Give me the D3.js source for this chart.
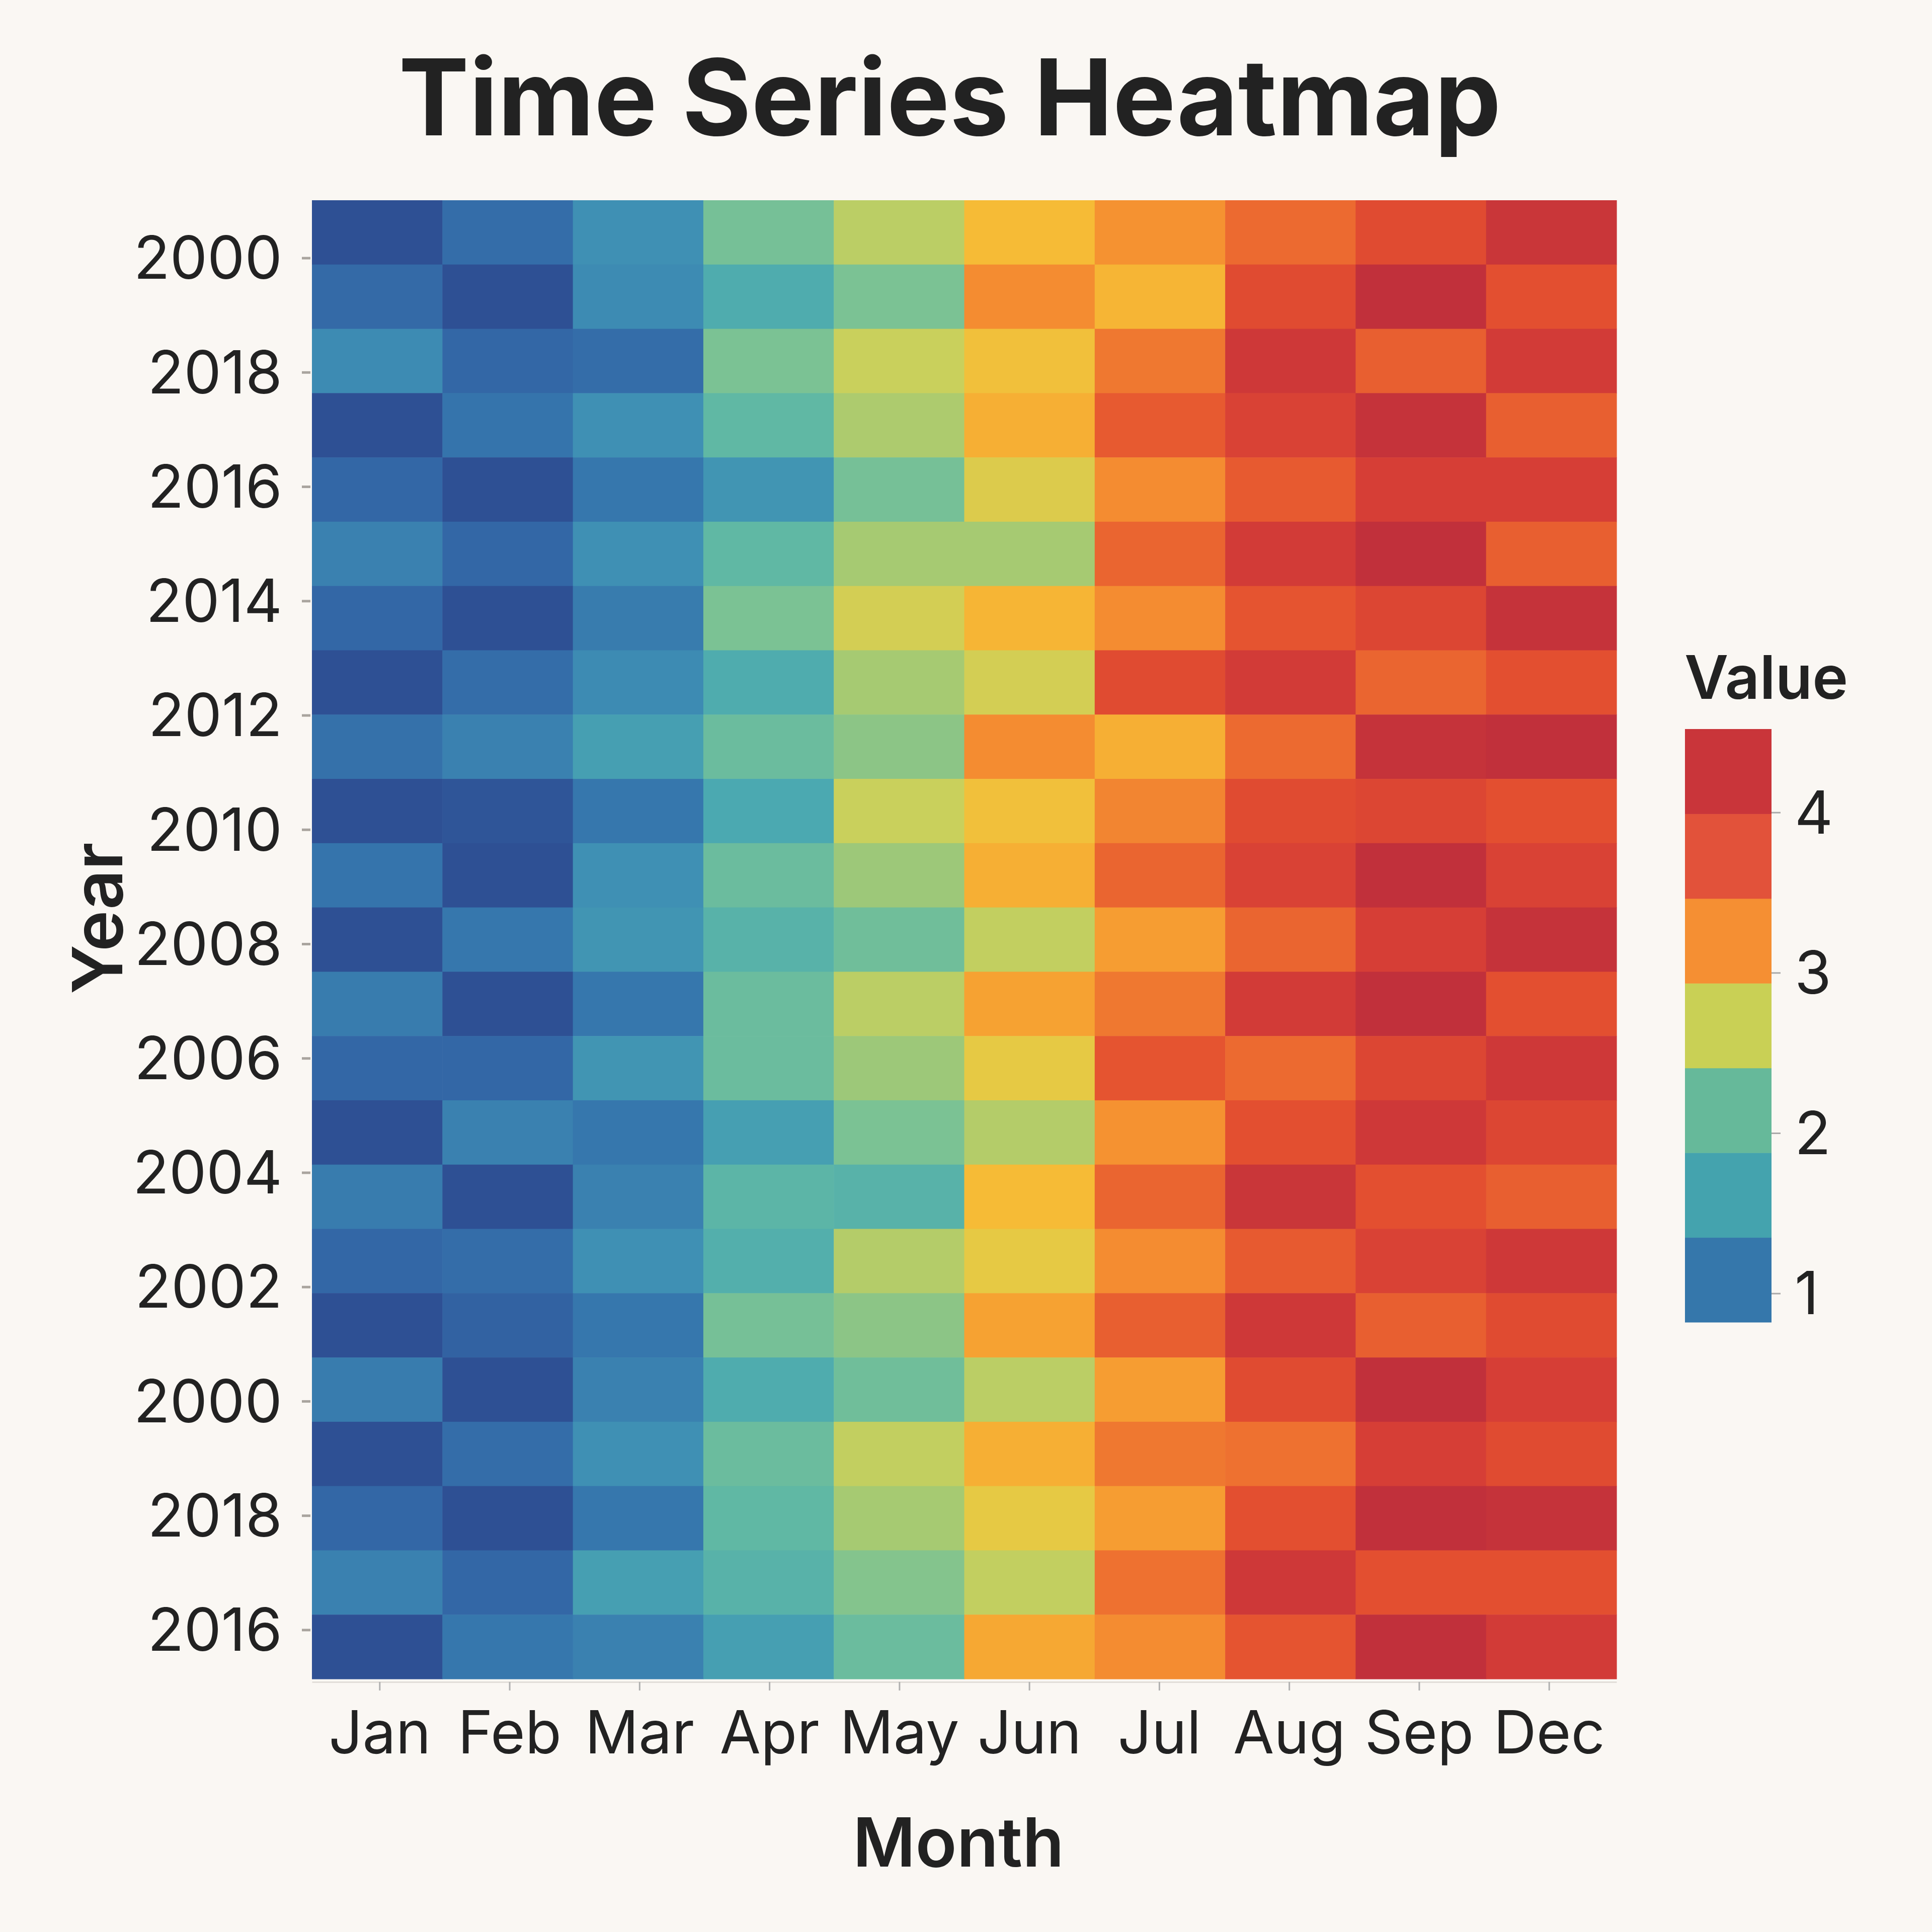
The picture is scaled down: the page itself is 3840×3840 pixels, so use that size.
<!DOCTYPE html>
<html>
<head>
<meta charset="utf-8">
<script src="https://cdn.jsdelivr.net/npm/d3@7"></script>
<style>
  html, body { margin: 0; padding: 0; background: #faf7f3; }
  svg { display: block; }
  text { font-family: Inter, "Noto Sans", sans-serif; fill: #222; }
</style>
</head>
<body>
<svg id="chart" width="3840" height="3840"></svg>
<script>
// columns and the tick labels printed on the y axis
const months = ['Jan', 'Feb', 'Mar', 'Apr', 'May', 'Jun', 'Jul', 'Aug', 'Sep', 'Dec'];
const yearTicks = ['2000', '2018', '2016', '2014', '2012', '2010', '2008', '2006', '2004', '2002', '2000', '2018', '2016'];

// one row per band of the heatmap, top to bottom
const values = [
    [0.85, 1.20, 1.60, 2.30, 2.75, 3.15, 3.50, 3.80, 4.10, 4.40],
    [1.15, 0.85, 1.55, 1.90, 2.35, 3.55, 3.20, 4.10, 4.50, 4.05],
    [1.55, 1.10, 1.20, 2.35, 2.85, 3.10, 3.70, 4.35, 3.90, 4.30],
    [0.85, 1.30, 1.60, 2.10, 2.65, 3.25, 3.95, 4.20, 4.45, 3.90],
    [1.10, 0.85, 1.35, 1.65, 2.30, 2.95, 3.55, 3.95, 4.25, 4.25],
    [1.45, 1.10, 1.60, 2.10, 2.60, 2.60, 3.85, 4.30, 4.50, 3.90],
    [1.10, 0.85, 1.40, 2.35, 2.90, 3.20, 3.55, 4.00, 4.15, 4.45],
    [0.85, 1.20, 1.55, 1.90, 2.60, 2.90, 4.10, 4.30, 3.85, 4.05],
    [1.25, 1.45, 1.75, 2.20, 2.45, 3.55, 3.25, 3.80, 4.45, 4.50],
    [0.85, 0.90, 1.35, 1.85, 2.85, 3.10, 3.60, 4.10, 4.15, 4.05],
    [1.30, 0.85, 1.60, 2.20, 2.55, 3.25, 3.85, 4.20, 4.50, 4.20],
    [0.85, 1.35, 1.65, 2.00, 2.25, 2.80, 3.40, 3.85, 4.25, 4.45],
    [1.40, 0.85, 1.35, 2.20, 2.75, 3.35, 3.70, 4.30, 4.50, 4.05],
    [1.10, 1.10, 1.65, 2.20, 2.55, 3.00, 4.00, 3.80, 4.15, 4.35],
    [0.85, 1.45, 1.35, 1.75, 2.35, 2.70, 3.50, 4.05, 4.35, 4.15],
    [1.40, 0.85, 1.45, 2.05, 2.00, 3.15, 3.85, 4.40, 4.05, 3.90],
    [1.10, 1.20, 1.60, 1.95, 2.70, 3.00, 3.55, 3.95, 4.20, 4.35],
    [0.85, 1.05, 1.35, 2.30, 2.45, 3.35, 3.90, 4.35, 3.90, 4.10],
    [1.40, 0.85, 1.45, 1.90, 2.25, 2.75, 3.40, 4.10, 4.50, 4.25],
    [0.85, 1.20, 1.60, 2.20, 2.80, 3.25, 3.70, 3.75, 4.25, 4.10],
    [1.10, 0.85, 1.35, 2.10, 2.60, 3.00, 3.40, 4.05, 4.50, 4.45],
    [1.45, 1.10, 1.75, 2.00, 2.40, 2.80, 3.75, 4.35, 4.05, 4.05],
    [0.85, 1.35, 1.45, 1.75, 2.20, 3.30, 3.55, 4.00, 4.50, 4.30]
];

const legendTicks = [1, 2, 3, 4];
const legendExtent = [0.82, 4.52];

// colour ramp used for the cells
const colorStops = [0.85, 1.1, 1.35, 1.6, 1.85, 2.1, 2.35, 2.6, 2.85, 3.0, 3.15, 3.35, 3.55, 3.8, 4.05, 4.25, 4.5];
const colorRange = ['#2e5094', '#3367a6', '#3677ad', '#3f90b4', '#4ba9b1', '#60b8a4', '#7bc294', '#a6ca72',
                    '#c9d05c', '#e6c944', '#f6bb36', '#f6a232', '#f48c31', '#ec6a30', '#e34f30', '#d63e36', '#c1303b'];
// stepped colours of the legend bar, bottom to top
const legendColors = ['#3577ab', '#44a3ae', '#66b99a', '#c9d055', '#f58f33', '#e2523a', '#c9353a'];

const svg = d3.select('#chart');
const plotLeft = 620, plotTop = 398, plotW = 2593, plotH = 2939;

const color = d3.scaleLinear().domain(colorStops).range(colorRange).clamp(true);
const x = d3.scaleBand().domain(months).range([plotLeft, plotLeft + plotW]);
const y = d3.scaleBand().domain(d3.range(values.length)).range([plotTop, plotTop + plotH]);

// tick positions don't sit on the cell centres in the original
const xTick = d3.scalePoint().domain(months).range([plotLeft, plotLeft + plotW]).padding(0.52);
const yTick = d3.scalePoint().domain(d3.range(yearTicks.length)).range([plotTop, plotTop + plotH]).padding(0.467).align(0.54);

svg.append('rect').attr('width', 3840).attr('height', 3840).attr('fill', '#faf7f3');

// cells
const cells = [];
values.forEach((row, i) => row.forEach((v, j) => cells.push({ row: i, month: months[j], value: v })));

svg.append('g').selectAll('rect')
    .data(cells)
    .join('rect')
    .attr('x', d => x(d.month))
    .attr('y', d => y(d.row))
    .attr('width', x.bandwidth() + 0.6)
    .attr('height', y.bandwidth() + 0.6)
    .attr('fill', d => color(d.value));

// x axis
const gx = svg.append('g')
    .attr('transform', `translate(0,${plotTop + plotH + 6})`)
    .call(d3.axisBottom(xTick).tickSize(17).tickSizeOuter(0));
gx.select('.domain').attr('stroke', '#e2ded9').attr('stroke-width', 3);
gx.selectAll('.tick line').attr('stroke', '#b0b0b0').attr('stroke-width', 3);
gx.selectAll('.tick text')
    .attr('y', 142).attr('dy', null)
    .attr('font-size', 118).attr('font-family', 'Inter, sans-serif').attr('fill', '#222');

// y axis
const gy = svg.append('g')
    .attr('transform', `translate(${plotLeft - 3},0)`)
    .call(d3.axisLeft(yTick).tickSize(17).tickFormat(i => yearTicks[i]));
gy.select('.domain').remove();
gy.selectAll('.tick line').attr('stroke', '#a9a49e').attr('stroke-width', 5);
gy.selectAll('.tick text')
    .attr('x', -56).attr('dy', '0.35em')
    .attr('font-size', 118).attr('font-family', 'Inter, sans-serif').attr('fill', '#222');

// titles
svg.append('text')
    .attr('x', 1888).attr('y', 269)
    .attr('text-anchor', 'middle')
    .attr('font-size', 210).attr('font-weight', 700)
    .text('Time Series Heatmap');

svg.append('text')
    .attr('x', 1905).attr('y', 3710)
    .attr('text-anchor', 'middle')
    .attr('font-size', 135).attr('font-weight', 600)
    .text('Month');

svg.append('text')
    .attr('transform', 'translate(243,1825) rotate(-90)')
    .attr('text-anchor', 'middle')
    .attr('font-size', 138).attr('font-weight', 600)
    .text('Year');

// legend
const lx = 3349, lw = 172;
const ly = d3.scaleLinear().domain(legendExtent).range([2628, 1449]);
const step = (legendExtent[1] - legendExtent[0]) / legendColors.length;

svg.append('text')
    .attr('x', 3348).attr('y', 1389)
    .attr('font-size', 120).attr('font-weight', 600)
    .text('Value');

svg.append('g').selectAll('rect')
    .data(legendColors)
    .join('rect')
    .attr('x', lx)
    .attr('y', (c, i) => ly(legendExtent[0] + (i + 1) * step))
    .attr('width', lw)
    .attr('height', (c, i) => ly(legendExtent[0] + i * step) - ly(legendExtent[0] + (i + 1) * step) + 0.5)
    .attr('fill', c => c);

const gl = svg.append('g')
    .attr('transform', `translate(${lx + lw},0)`)
    .call(d3.axisRight(ly).tickValues(legendTicks).tickSize(18).tickFormat(d3.format('d')));
gl.select('.domain').remove();
gl.selectAll('.tick line').attr('stroke', '#a9a9a9').attr('stroke-width', 3);
gl.selectAll('.tick text')
    .attr('x', 46).attr('dy', '0.35em')
    .attr('font-size', 118).attr('font-family', 'Inter, sans-serif').attr('fill', '#222');
</script>
</body>
</html>
